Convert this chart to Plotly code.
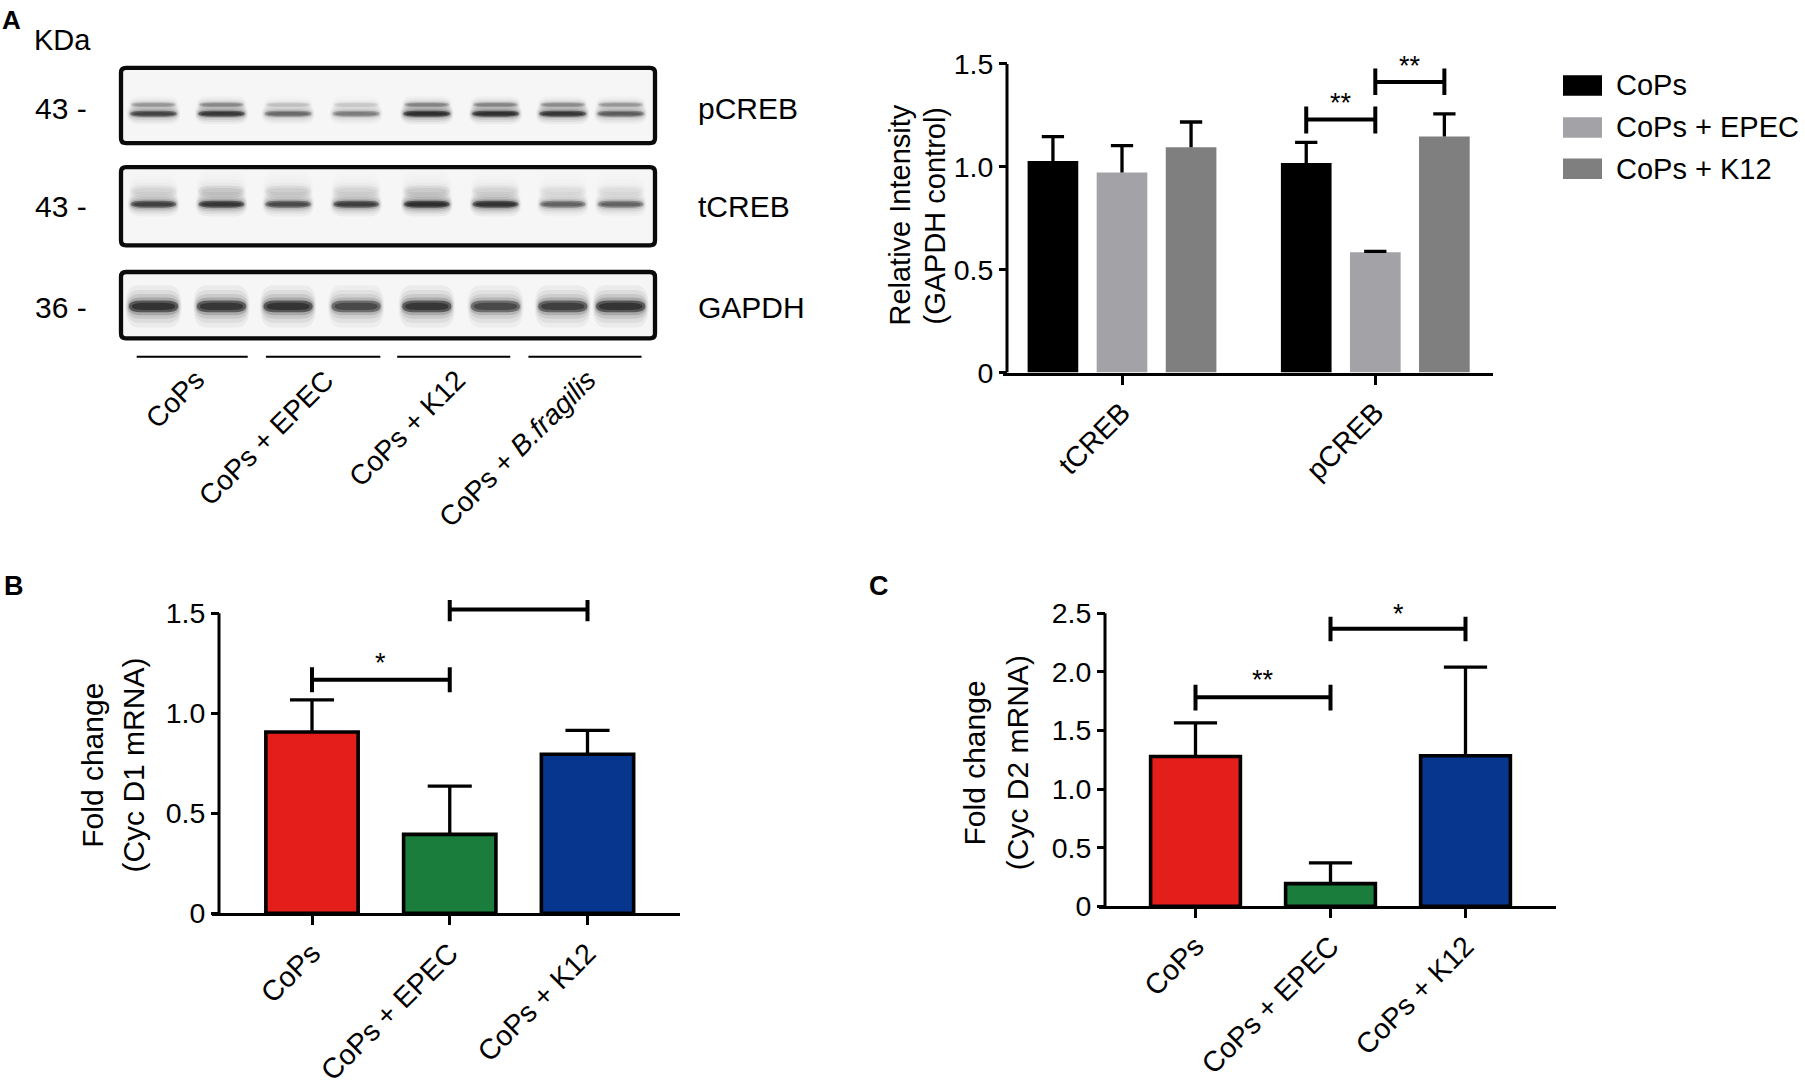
import plotly.graph_objects as go

W, H = 1805, 1087
FONT = "Liberation Sans, Arial, Helvetica, sans-serif"

# ---------------- data ----------------
# panel A, western blot: darkness of each band per lane (0 = none, 1 = darkest)
lane_pos = [0.52, 1.53, 2.52, 3.53, 4.58, 5.60, 6.60, 7.46]
pcreb_top = [0.30, 0.36, 0.14, 0.12, 0.38, 0.38, 0.34, 0.30]
pcreb_main = [0.80, 0.90, 0.55, 0.45, 1.00, 0.98, 0.92, 0.62]
tcreb_haze = [0.10, 0.14, 0.12, 0.10, 0.13, 0.10, 0.07, 0.07]
tcreb_main = [0.82, 0.92, 0.75, 0.84, 1.00, 0.94, 0.58, 0.58]
gapdh_main = [0.95, 0.92, 0.94, 0.76, 0.92, 0.76, 0.84, 0.94]
blot_names = ["pCREB", "tCREB", "GAPDH"]
blot_kda = ["43 -", "43 -", "36 -"]
blot_groups = ["CoPs", "CoPs + EPEC", "CoPs + K12", "CoPs + <i>B.fragilis</i>"]
group_from = [0.27, 2.19, 4.14, 6.09]
group_to = [1.92, 3.89, 5.82, 7.77]

# panel A, densitometry
a_targets = ["tCREB", "pCREB"]
a_series = ["CoPs", "CoPs + EPEC", "CoPs + K12"]
a_cops = [1.028, 1.019]
a_epec = [0.973, 0.585]
a_k12 = [1.095, 1.147]
a_cops_sd = [0.119, 0.100]
a_epec_sd = [0.130, 0.004]
a_k12_sd = [0.123, 0.111]
a_colors = ["#000000", "#a3a3a7", "#7f7f7f"]

# panels B and C, qPCR
treatments = ["CoPs", "CoPs + EPEC", "CoPs + K12"]
cycd1 = [0.906, 0.394, 0.795]
cycd1_sd = [0.160, 0.241, 0.119]
cycd2 = [1.278, 0.193, 1.284]
cycd2_sd = [0.287, 0.177, 0.756]
bc_colors = ["#e41f1b", "#1a7d3b", "#07368f"]

# significance brackets: (from, to, line level, lower end, upper end, label, label level)
a_sig = [((1, 0), (1, 1), 1.23, 1.162, 1.293, "**", 1.34),
         ((1, 1), (1, 2), 1.412, 1.349, 1.478, "**", 1.52)]
b_sig = [(0, 1, 1.167, 1.105, 1.23, "*", 1.28),
         (1, 2, 1.518, 1.459, 1.566, "", 0)]
c_sig = [(0, 1, 1.783, 1.67, 1.89, "**", 1.98),
         (1, 2, 2.366, 2.26, 2.47, "*", 2.54)]


def px(x):
    return x / W


def py(y):
    return 1 - y / H


fig = go.Figure()
shapes = []
ann = []


def text(x, y, s, size=30, xanchor="center", yanchor="middle", angle=0, xref="paper", yref="paper", yshift=0):
    ann.append(dict(x=x, y=y, text=s, xref=xref, yref=yref, showarrow=False, xanchor=xanchor,
                    yanchor=yanchor, textangle=angle, yshift=yshift,
                    font=dict(family=FONT, size=size, color="black")))


def errbars(xs, ys, sds, cap, xa, ya):
    ex, ey = [], []
    for x, y, s in zip(xs, ys, sds):
        ex += [x, x, None, x - cap / 2, x + cap / 2, None]
        ey += [y, y + s, None, y + s, y + s, None]
    fig.add_trace(go.Scatter(x=ex, y=ey, mode="lines", line=dict(color="black", width=3.3),
                             xaxis=xa, yaxis=ya, showlegend=False, hoverinfo="skip"))


def bracket(x0, x1, yl, lo, hi, lab, laby, xa, ya):
    ln = dict(color="black", width=4)
    shapes.append(dict(type="line", xref=xa, yref=ya, x0=x0, x1=x1, y0=yl, y1=yl, line=ln))
    for xx in (x0, x1):
        shapes.append(dict(type="line", xref=xa, yref=ya, x0=xx, x1=xx, y0=lo, y1=hi, line=ln))
    if lab:
        text((x0 + x1) / 2, laby, lab, size=27, xref=xa, yref=ya, yshift=-6)


def bar_axes(n, left, axis, right, c0, step, zero, unit, top, ytop, yvals, ylabels, xvals, xlabels):
    xn, yn = ("x", "y") if n == 1 else ("x%d" % n, "y%d" % n)
    xr = [(left - c0) / step, (right - c0) / step]
    xaxis = dict(domain=[px(left), px(right)], range=xr, anchor=yn, showline=True, linewidth=3,
                 linecolor="black", ticks="outside", ticklen=9, tickwidth=3, tickcolor="black",
                 tickvals=xvals, ticktext=xlabels, tickangle=-45, showgrid=False, zeroline=False,
                 tickfont=dict(family=FONT, size=28.5, color="black"))
    yaxis = dict(domain=[py(zero), py(zero - top * unit)], range=[0, top], anchor="free",
                 position=px(axis), showline=False, ticks="outside", ticklen=8, tickwidth=3,
                 tickcolor="black", tickvals=yvals, ticktext=ylabels, showgrid=False,
                 zeroline=False, tickfont=dict(family=FONT, size=28.5, color="black"))
    ax = (axis - c0) / step
    shapes.append(dict(type="line", xref=xn, yref=yn, x0=ax, x1=ax, y0=0, y1=ytop,
                       line=dict(color="black", width=3)))
    return xn, yn, xaxis, yaxis


# ---------------- panel A densitometry ----------------
a_off = [-0.2727, 0.0, 0.2727]
xa1, ya1, xax1, yax1 = bar_axes(1, 1003, 1007, 1493, 1122, 253.3, 377.3, 210.6, 1.56, 1.5,
                                [0, 0.5, 1.0, 1.5], ["0", "0.5", "1.0", "1.5"],
                                [0, 1], a_targets)
for k, (vals, sds) in enumerate([(a_cops, a_cops_sd), (a_epec, a_epec_sd), (a_k12, a_k12_sd)]):
    xs = [g + a_off[k] for g in range(len(a_targets))]
    fig.add_trace(go.Bar(x=xs, y=vals, width=0.2, marker=dict(color=a_colors[k], line=dict(width=0)),
                         name=a_series[k], showlegend=False, xaxis=xa1, yaxis=ya1))
    errbars(xs, vals, sds, 0.088, xa1, ya1)
for f, t, yl, lo, hi, lab, laby in a_sig:
    bracket(f[0] + a_off[f[1]], t[0] + a_off[t[1]], yl, lo, hi, lab, laby, xa1, ya1)
text(px(900), py(216.5), "Relative Intensity", angle=-90, size=29)
text(px(935), py(216.5), "(GAPDH control)", angle=-90, size=29)

# legend
leg_y = [83.3, 126.3, 168.7]
for k, name in enumerate(a_series):
    shapes.append(dict(type="rect", xref="paper", yref="paper", x0=px(1563), x1=px(1602),
                       y0=py(leg_y[k] + 10.5), y1=py(leg_y[k] - 10.5),
                       fillcolor=a_colors[k], line=dict(width=0)))
    text(px(1614), py(leg_y[k]), name, size=29, xanchor="left")

# ---------------- panel B ----------------
xa2, ya2, xax2, yax2 = bar_axes(2, 212, 219, 680, 312, 137.75, 930.6, 204.73, 1.62, 1.5,
                                [0, 0.5, 1.0, 1.5], ["0", "0.5", "1.0", "1.5"],
                                [0, 1, 2], treatments)
xs = list(range(len(treatments)))
fig.add_trace(go.Bar(x=xs, y=cycd1, width=0.67,
                     marker=dict(color=bc_colors, line=dict(color="black", width=3.6)),
                     showlegend=False, xaxis=xa2, yaxis=ya2))
errbars(xs, cycd1, cycd1_sd, 0.32, xa2, ya2)
for f, t, yl, lo, hi, lab, laby in b_sig:
    bracket(f, t, yl, lo, hi, lab, laby, xa2, ya2)
text(px(91.7), py(779), "Fold change", angle=-90)
text(px(133.5), py(779), "(Cyc D1 mRNA)", angle=-90)

# ---------------- panel C ----------------
xa3, ya3, xax3, yax3 = bar_axes(3, 1099, 1105, 1556, 1195.5, 135, 923.5, 120.0, 2.6, 2.5,
                                [0, 0.5, 1.0, 1.5, 2.0, 2.5], ["0", "0.5", "1.0", "1.5", "2.0", "2.5"],
                                [0, 1, 2], treatments)
fig.add_trace(go.Bar(x=xs, y=cycd2, width=0.665,
                     marker=dict(color=bc_colors, line=dict(color="black", width=3.6)),
                     showlegend=False, xaxis=xa3, yaxis=ya3))
errbars(xs, cycd2, cycd2_sd, 0.32, xa3, ya3)
for f, t, yl, lo, hi, lab, laby in c_sig:
    bracket(f, t, yl, lo, hi, lab, laby, xa3, ya3)
text(px(974.4), py(777), "Fold change", angle=-90)
text(px(1017), py(777), "(Cyc D2 mRNA)", angle=-90)

# ---------------- panel A western blot ----------------
fig.add_trace(go.Scatter(x=[0], y=[200], mode="markers", marker=dict(opacity=0), xaxis="x4", yaxis="y4",
                         showlegend=False, hoverinfo="skip"))
box_rows = [(63.3, 144.3), (165.0, 249.0), (272.3, 344.3)]


def rrect(x0, y0, x1, y1, r):
    X = lambda v: px(v)
    Y = lambda v: py(v)
    return (f"M {X(x0 + r)},{Y(y0)} L {X(x1 - r)},{Y(y0)} Q {X(x1)},{Y(y0)} {X(x1)},{Y(y0 + r)} "
            f"L {X(x1)},{Y(y1 - r)} Q {X(x1)},{Y(y1)} {X(x1 - r)},{Y(y1)} L {X(x0 + r)},{Y(y1)} "
            f"Q {X(x0)},{Y(y1)} {X(x0)},{Y(y1 - r)} L {X(x0)},{Y(y0 + r)} Q {X(x0)},{Y(y0)} {X(x0 + r)},{Y(y0)} Z")


def band_path(cx, cy, w, h):
    x0, x1 = cx - w / 2, cx + w / 2
    y0, y1 = cy - h / 2, cy + h / 2
    rx = min(0.2, w / 2)
    return (f"M {x0 + rx},{y0} L {x1 - rx},{y0} Q {x1},{y0} {x1},{cy} Q {x1},{y1} {x1 - rx},{y1} "
            f"L {x0 + rx},{y1} Q {x0},{y1} {x0},{cy} Q {x0},{y0} {x0 + rx},{y0} Z")


for (t0, t1) in box_rows:
    shapes.append(dict(type="path", xref="paper", yref="paper", path=rrect(121, t0 + 2, 655, t1 - 2, 5),
                       fillcolor="#f6f6f6", line=dict(width=0)))

band_rows = [(pcreb_top, 103.0, 5, 0.68), (pcreb_main, 112.3, 6, 0.72),
             (tcreb_haze, 192, 12, 0.70), (tcreb_main, 205.0, 7, 0.70),
             (gapdh_main, 309.5, 12, 0.76)]
layers = [(1.10, 3.6, 0.05), (1.06, 2.8, 0.07), (1.03, 2.1, 0.10),
          (1.0, 1.5, 0.18), (0.96, 1.0, 0.55), (0.85, 0.6, 0.5)]
for dens, cy, h, w in band_rows:
    for lx, dv in zip(lane_pos, dens):
        for sw, sh, op in layers:
            shapes.append(dict(type="path", xref="x4", yref="y4", path=band_path(lx, cy, w * sw, h * sh),
                               fillcolor="#0d0d0d", opacity=op * dv, line=dict(width=0)))

for (t0, t1) in box_rows:
    shapes.append(dict(type="path", xref="paper", yref="paper", path=rrect(121, t0 + 2, 655, t1 - 2, 5),
                       fillcolor="rgba(0,0,0,0)", line=dict(color="#0a0a0a", width=4.3)))

row_y = [106.7, 207.0, 311.0]
for k in range(3):
    text(px(61), py(row_y[k]), blot_kda[k])
    text(px(696), py(row_y[k]), blot_names[k], xanchor="left")
text(px(32), py(36.7), "KDa", size=29, xanchor="left")

for g, lab in enumerate(blot_groups):
    shapes.append(dict(type="line", xref="x4", yref="y4", x0=group_from[g], x1=group_to[g], y0=361, y1=361,
                       line=dict(color="black", width=2)))
    text((group_from[g] + group_to[g]) / 2 + 0.3, 366, lab, size=28, xref="x4", yref="y4",
         xanchor="right", yanchor="top", angle=-45)

# panel letters
text(px(0), py(16.7), "<b>A</b>", size=26, xanchor="left")
text(px(2), py(596), "<b>B</b>", size=27, xanchor="left")
text(px(867), py(596), "<b>C</b>", size=27, xanchor="left")

fig.update_layout(
    width=W, height=H, margin=dict(l=0, r=0, t=0, b=0),
    paper_bgcolor="white", plot_bgcolor="rgba(0,0,0,0)",
    barmode="overlay", showlegend=False,
    font=dict(family=FONT, size=30, color="black"),
    xaxis=xax1, yaxis=yax1, xaxis2=xax2, yaxis2=yax2, xaxis3=xax3, yaxis3=yax3,
    xaxis4=dict(domain=[px(118.5), px(657)], range=[0, 8], visible=False, anchor="y4"),
    yaxis4=dict(domain=[py(380), py(40)], range=[380, 40], visible=False, anchor="x4"),
    shapes=shapes, annotations=ann,
)

fig.write_html("out.html", config={"displayModeBar": False},
               post_script="document.body.style.margin='0';document.body.style.overflow='hidden';")
